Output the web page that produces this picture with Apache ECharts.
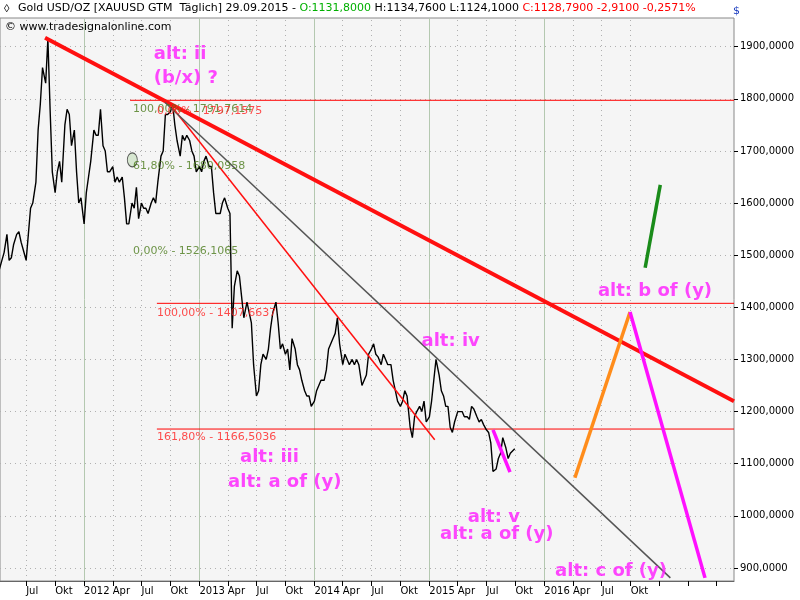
<!DOCTYPE html>
<html>
<head>
<meta charset="utf-8">
<script src="https://cdn.jsdelivr.net/npm/echarts@6/dist/echarts.min.js"></script>
<style>html,body{margin:0;padding:0;background:#fff}#chart-panel{width:800px;height:600px}</style>
</head>
<body>
<div id="chart-panel"></div>
<script>
// Tagesschluss Gold (1., 8., 15., 22. jedes Monats)
var months = ['2011-04','2011-05','2011-06','2011-07','2011-08','2011-09','2011-10','2011-11','2011-12',
  '2012-01','2012-02','2012-03','2012-04','2012-05','2012-06','2012-07','2012-08','2012-09','2012-10','2012-11','2012-12',
  '2013-01','2013-02','2013-03','2013-04','2013-05','2013-06','2013-07','2013-08','2013-09','2013-10','2013-11','2013-12',
  '2014-01','2014-02','2014-03','2014-04','2014-05','2014-06','2014-07','2014-08','2014-09','2014-10','2014-11','2014-12',
  '2015-01','2015-02','2015-03','2015-04','2015-05','2015-06','2015-07','2015-08','2015-09'];
var days = ['01','08','15','22'];
var closes = [
  1460,1475,1490,1505, 1540,1490,1495,1520, 1540,1545,1525,1510, 1490,1540,1590,1600,
  1640,1740,1790,1860, 1830,1915,1780,1660, 1620,1660,1680,1640, 1750,1780,1770,1710,
  1740,1660,1600,1610,
  1560,1620,1650,1680, 1740,1730,1730,1780, 1710,1700,1660,1660, 1670,1640,1650,1640,
  1650,1610,1560,1560, 1600,1590,1630,1570, 1600,1590,1590,1580, 1600,1610,1600,1640,
  1690,1700,1770,1770, 1775,1790,1750,1720, 1690,1730,1720,1730, 1720,1700,1690,1660,
  1670,1660,1680,1690, 1670,1670,1620,1580, 1580,1580,1600,1610, 1590,1580,1360,1440,
  1470,1460,1420,1380, 1410,1390,1370,1290, 1230,1240,1290,1310, 1300,1320,1360,1390,
  1410,1370,1320,1330, 1310,1320,1280,1340, 1320,1290,1280,1260, 1240,1230,1230,1210,
  1220,1240,1250,1260, 1260,1280,1320,1330, 1340,1350,1380,1330, 1290,1310,1300,1290,
  1300,1290,1300,1290, 1250,1260,1270,1310, 1320,1330,1310,1305, 1290,1310,1300,1290,
  1290,1260,1240,1220, 1210,1220,1240,1230, 1170,1150,1190,1200, 1210,1200,1220,1180,
  1190,1220,1260,1300, 1270,1240,1230,1210, 1210,1170,1160,1180, 1200,1200,1200,1190,
  1190,1185,1210,1205, 1190,1180,1185,1175, 1165,1160,1140,1085, 1090,1110,1120,1150,
  1130,1110,1120
];
var lastDate = '2015-09-29', lastClose = 1128.79;

// Fibonacci-Niveaus [Startdatum, Wert]
var levels = [['2012-05-26', 1797.1575], ['2012-08-19', 1407.6637], ['2012-08-19', 1166.5036]];
var fibLabels = [
  ['2012-06-04', 1780, '100,00% - 1791,7614', '#4a7a1a'],
  ['2012-08-19', 1777, '0,00% - 1797,1575', '#ff2020'],
  ['2012-06-04', 1670, '61,80% - 1680,0958', '#4a7a1a'],
  ['2012-06-04', 1507, '0,00% - 1526,1065', '#4a7a1a'],
  ['2012-08-19', 1389, '100,00% - 1407,6637', '#ff2020'],
  ['2012-08-19', 1151, '161,80% - 1166,5036', '#ff2020']
];
// Trendlinien [von, bis, Farbe, Breite]
var trends = [
  [['2011-08-30', 1917], ['2017-08-25', 1220], '#ff1010', 4],
  [['2012-09-30', 1789], ['2015-01-18', 1146], '#ff1010', 1.5],
  [['2012-09-14', 1793], ['2017-02-04', 881], '#555555', 1.5],
  [['2015-07-22', 1165], ['2015-09-14', 1084], '#ff10ff', 3.5],
  [['2016-04-07', 1073], ['2016-09-29', 1391], '#ff8c1a', 3.5],
  [['2016-09-29', 1391], ['2017-05-25', 881], '#ff10ff', 3.5],
  [['2016-11-16', 1476], ['2017-01-03', 1635], '#1a8c1a', 3.5]
];
var waveLabels = [
  ['2012-08-09', 1885, 'alt: ii'], ['2012-08-09', 1839, '(b/x) ?'],
  ['2014-12-07', 1334, 'alt: iv'], ['2013-05-10', 1113, 'alt: iii'],
  ['2013-04-02', 1065, 'alt: a of (y)'], ['2015-05-03', 998, 'alt: v'],
  ['2015-02-04', 965, 'alt: a of (y)'], ['2016-06-19', 1430, 'alt: b of (y)'],
  ['2016-02-04', 894, 'alt: c of (y)']
];
var quarterTicks = ['2011-07-01','2011-10-01','2012-01-01','2012-04-01','2012-07-01','2012-10-01',
  '2013-01-01','2013-04-01','2013-07-01','2013-10-01','2014-01-01','2014-04-01','2014-07-01','2014-10-01',
  '2015-01-01','2015-04-01','2015-07-01','2015-10-01','2016-01-01','2016-04-01','2016-07-01','2016-10-01',
  '2017-01-01','2017-04-01','2017-07-01'];
var yTicks = [900, 1000, 1100, 1200, 1300, 1400, 1500, 1600, 1700, 1800, 1900];
var xStart = '2011-04-09', xEnd = '2017-08-25';

function t(d) { return Date.parse(d + 'T00:00:00Z'); }

var priceData = [];
months.forEach(function (m, i) {
  days.forEach(function (d, j) {
    var v = closes[i * 4 + j];
    if (v !== undefined) priceData.push([t(m + '-' + d), v]);
  });
});
priceData.push([t(lastDate), lastClose]);

var quarterTimes = quarterTicks.map(t);

// Gitter: Jahre durchgezogen, Quartale und Preisstufen gepunktet
var dotted = { color: '#b0b0b0', type: [1, 4], width: 1 };
var gridLines = quarterTicks.filter(function (d) { return d < '2016-12-31'; }).map(function (d) {
  var isYear = d.slice(5) === '01-01';
  return { xAxis: t(d), lineStyle: isYear ? { color: '#b4c8b0', type: 'solid', width: 1 } : dotted };
}).concat(yTicks.map(function (v) { return { yAxis: v, lineStyle: dotted }; }));

var chart = echarts.init(document.getElementById('chart-panel'));
var series = [{
  type: 'line', data: priceData, symbol: 'none', z: 3,
  lineStyle: { color: '#000', width: 1.4 },
  markLine: { silent: true, symbol: 'none', z: 1, label: { show: false }, data: gridLines }
}];
levels.forEach(function (l) {
  series.push({ type: 'line', data: [[t(l[0]), l[1]], [t(xEnd), l[1]]], symbol: 'none', z: 2,
    lineStyle: { color: '#ff0000', width: 1 } });
});
trends.forEach(function (tr) {
  series.push({ type: 'line', data: [[t(tr[0][0]), tr[0][1]], [t(tr[1][0]), tr[1][1]]], symbol: 'none', z: 4,
    lineStyle: { color: tr[2], width: tr[3] } });
});
series.push({
  type: 'scatter', symbolSize: 0, z: 5,
  data: fibLabels.map(function (f) {
    return { value: [t(f[0]), f[1]], label: { show: true, position: 'right', distance: 0, formatter: f[2], color: f[3], fontSize: 11, fontFamily: 'DejaVu Sans' } };
  })
});
series.push({
  type: 'scatter', symbolSize: 0, z: 6,
  data: waveLabels.map(function (w) {
    return { value: [t(w[0]), w[1]], label: { show: true, position: 'right', distance: 0, formatter: w[2], color: '#ff1aff', fontSize: 18, fontWeight: 'bold', fontFamily: 'DejaVu Sans' } };
  })
});
series.push({
  type: 'scatter', z: 5, symbol: 'circle', symbolSize: [10, 14],
  itemStyle: { color: '#cfe3c8', borderColor: '#333', borderWidth: 1 },
  data: [[t('2012-06-02'), 1683]]
});

var monthName = { 3: 'Apr', 6: 'Jul', 9: 'Okt' };
var option = {
  backgroundColor: '#ffffff',
  animation: false,
  grid: { left: 0, right: 66, top: 18, bottom: 19, show: true, backgroundColor: '#f5f5f5', borderColor: '#888', borderWidth: 1 },
  xAxis: {
    type: 'value', min: t(xStart), max: t(xEnd),
    axisLine: { lineStyle: { color: '#666' } },
    axisTick: { show: true, length: 5, customValues: quarterTimes, lineStyle: { color: '#000' } },
    axisLabel: {
      customValues: quarterTimes,
      color: '#000', fontSize: 10, fontFamily: 'DejaVu Sans', align: 'left', margin: 5, hideOverlap: false,
      formatter: function (val) {
        var d = new Date(val), m = d.getUTCMonth();
        if (d.getUTCFullYear() > 2016) return '';
        if (m === 0) return String(d.getUTCFullYear());
        return monthName[m] || '';
      }
    },
    splitLine: { show: false }
  },
  yAxis: {
    type: 'value', position: 'right', min: 875, max: 1955, scale: true,
    axisLine: { show: false },
    axisTick: { show: true, length: 4, customValues: yTicks, lineStyle: { color: '#000' } },
    axisLabel: { customValues: yTicks, color: '#000', fontSize: 10, fontFamily: 'DejaVu Sans', margin: 6,
      formatter: function (v) { return v.toFixed(4).replace('.', ','); } },
    splitLine: { show: false }
  },
  graphic: [
    { type: 'text', left: 4, top: 3, style: { text: '◊', fontSize: 11, fill: '#000' } },
    { type: 'text', left: 18, top: 3, style: { rich: {
        a: { fontSize: 11, fontFamily: 'DejaVu Sans', fill: '#000' },
        g: { fontSize: 11, fontFamily: 'DejaVu Sans', fill: '#00b000' },
        r: { fontSize: 11, fontFamily: 'DejaVu Sans', fill: '#ff0000' } },
        text: '{a|Gold USD/OZ [XAUUSD GTM  Täglich] 29.09.2015 - }{g|O:1131,8000}{a| H:1134,7600 L:1124,1000 }{r|C:1128,7900 -2,9100 -0,2571%}' } },
    { type: 'text', left: 5, top: 22, style: { text: '© www.tradesignalonline.com', fontSize: 11, fontFamily: 'DejaVu Sans', fill: '#000' } },
    { type: 'text', left: 733, top: 6, style: { text: '$', fontSize: 11, fontFamily: 'DejaVu Sans', fill: '#2040c0' } }
  ],
  series: series
};
chart.setOption(option);
</script>
</body>
</html>
